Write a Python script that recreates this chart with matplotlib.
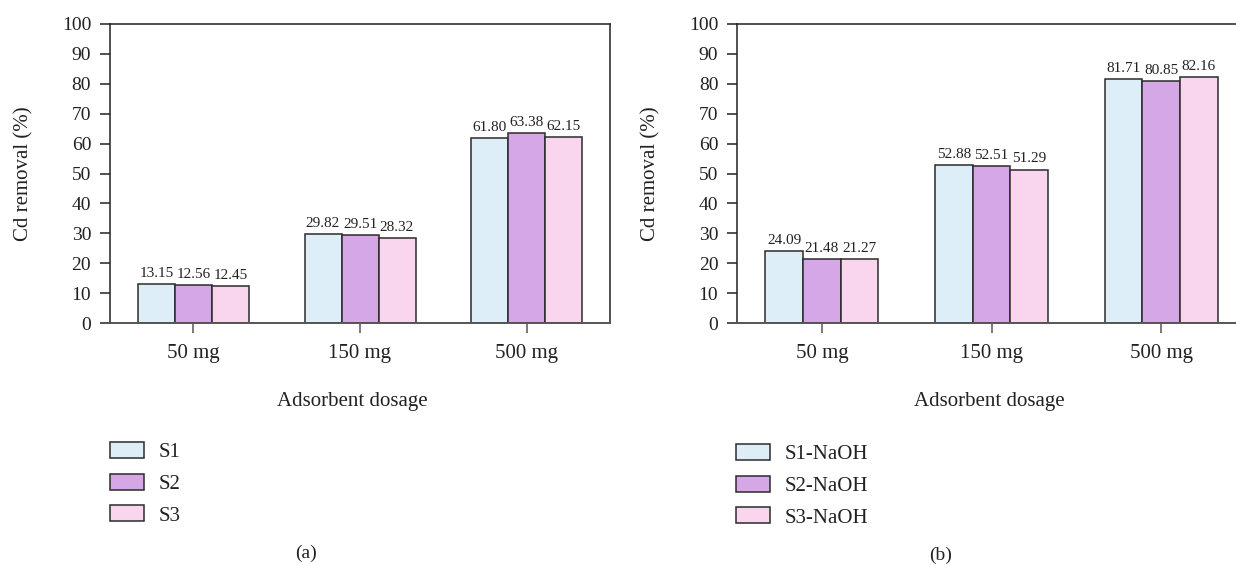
import numpy as np
import matplotlib.pyplot as plt

plt.rcParams['font.family'] = ['Liberation Serif', 'DejaVu Serif']

# dosage groups and Cd removal (%) for raw and NaOH-treated samples
dosages = ['50 mg', '150 mg', '500 mg']
raw_labels = ['S1', 'S2', 'S3']
naoh_labels = ['S1-NaOH', 'S2-NaOH', 'S3-NaOH']

s1 = [13.15, 29.82, 61.80]
s2 = [12.56, 29.51, 63.38]
s3 = [12.45, 28.32, 62.15]

s1_naoh = [24.09, 52.88, 81.71]
s2_naoh = [21.48, 52.51, 80.85]
s3_naoh = [21.27, 51.29, 82.16]

colors = ['#ddeef9', '#d5a7e6', '#fad5ee']
edge = '#2b2b2b'
width = 0.222

W, H = 1236, 565
fig = plt.figure(figsize=(W / 100, H / 100), dpi=100)


def draw_panel(rect, series, labels, ylabel_x, xlabel_x, legend_xy, tag_xy, tag):
    ax = fig.add_axes(rect)
    x = np.arange(len(dosages))
    for i, (vals, lab) in enumerate(zip(series, labels)):
        bars = ax.bar(x + (i - 1) * width, vals, width, color=colors[i],
                      edgecolor=edge, linewidth=1.1, label=lab, zorder=2)
        ax.bar_label(bars, fmt='%.2f', padding=3, fontsize=11, color='#222222')

    ax.set_xlim(-0.5, 2.5)
    ax.set_ylim(0, 100)
    ax.set_yticks(range(0, 101, 10))
    ax.set_xticks(x)
    ax.set_xticklabels(dosages, fontsize=15)
    ax.tick_params(axis='y', labelsize=14, length=7.5, width=1.1, pad=6,
                   color='#222222', labelcolor='#222222')
    ax.tick_params(axis='x', length=7, width=1.1, pad=8, color='#555555',
                   labelcolor='#222222')
    for side in ['left', 'top', 'right']:
        ax.spines[side].set_color('#222222')
        ax.spines[side].set_linewidth(1.1)
    ax.spines['bottom'].set_color('#555555')
    ax.spines['bottom'].set_linewidth(1.4)

    ax.set_ylabel('Cd removal (%)', fontsize=15, color='#222222')
    ax.yaxis.set_label_coords(ylabel_x, 0.5)
    ax.set_xlabel('Adsorbent dosage', fontsize=15, color='#222222')
    ax.xaxis.set_label_coords(xlabel_x, -0.23)

    handles, labs = ax.get_legend_handles_labels()
    fig.legend(handles, labs, loc='upper left', bbox_to_anchor=legend_xy,
               bbox_transform=fig.transFigure, frameon=False, fontsize=15,
               borderpad=0, borderaxespad=0, handlelength=1.65,
               handleheight=0.8, handletextpad=0.7, labelspacing=0.55,
               labelcolor='#222222')
    fig.text(tag_xy[0], tag_xy[1], tag, fontsize=14, ha='center', va='center',
             color='#222222')
    return ax


draw_panel([110 / W, 1 - 323 / H, 500 / W, 299 / H], [s1, s2, s3], raw_labels,
           -0.154, 0.485, (110 / W, 1 - 442 / H), (306 / W, 1 - 553 / H), '(a)')
draw_panel([737 / W, 1 - 323 / H, 509 / W, 299 / H], [s1_naoh, s2_naoh, s3_naoh],
           naoh_labels, -0.151, 0.495, (736 / W, 1 - 444 / H),
           (941 / W, 1 - 555 / H), '(b)')

fig.savefig('out.png', dpi=100)
